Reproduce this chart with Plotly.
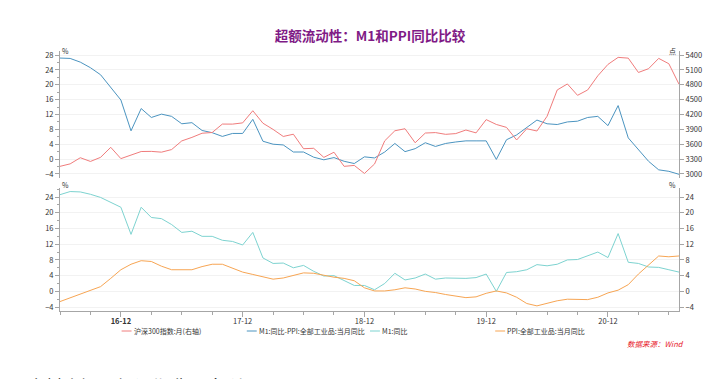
import plotly.graph_objects as go

# ---- categories: monthly, 2016-06 .. 2021-07 ----
months = []
for y in range(2016, 2022):
    for m in range(1, 13):
        if (y == 2016 and m < 6) or (y == 2021 and m > 7):
            continue
        months.append(f"{y % 100:02d}-{m:02d}")

tick_labels = ["16-12", "17-12", "18-12", "19-12", "20-12"]

# ---- series ----
csi300 = [3154, 3204, 3328, 3253, 3336, 3538, 3310, 3388, 3453, 3456, 3440, 3493,
          3667, 3738, 3822, 3837, 4007, 4006, 4031, 4276, 4024, 3899, 3757, 3802,
          3510, 3518, 3335, 3439, 3154, 3173, 3011, 3202, 3669, 3872, 3913, 3630,
          3826, 3835, 3800, 3815, 3887, 3829, 4097, 3999, 3940, 3686, 3913, 3867,
          4164, 4695, 4816, 4587, 4695, 4981, 5211, 5352, 5337, 5048, 5124, 5332,
          5224, 4811]

m1_minus_ppi = [27.2, 27.1, 26.1, 24.6, 22.7, 19.4, 15.9, 7.6, 13.6, 11.2, 12.1, 11.5,
                9.5, 9.8, 7.7, 7.1, 6.1, 6.9, 6.9, 10.7, 4.8, 4.0, 3.8, 1.9,
                1.9, 0.5, -0.2, 0.4, -0.6, -1.2, 0.6, 0.3, 1.9, 4.2, 2.0, 2.8,
                4.4, 3.4, 4.2, 4.6, 4.9, 4.9, 4.9, -0.1, 5.2, 6.5, 8.6, 10.5,
                9.5, 9.3, 10.0, 10.2, 11.2, 11.5, 9.0, 14.4, 5.7, 2.7, -0.6, -2.9,
                -3.3, -4.1]

m1 = [24.6, 25.4, 25.3, 24.7, 23.9, 22.7, 21.4, 14.5, 21.4, 18.8, 18.5, 17.0,
      15.0, 15.3, 14.0, 14.0, 13.0, 12.7, 11.8, 15.0, 8.5, 7.1, 7.2, 6.0,
      6.6, 5.1, 3.9, 4.0, 2.7, 1.5, 1.5, 0.4, 2.0, 4.6, 2.9, 3.4,
      4.4, 3.1, 3.4, 3.4, 3.3, 3.5, 4.4, 0.0, 4.8, 5.0, 5.5, 6.8,
      6.5, 6.9, 8.0, 8.1, 9.1, 10.0, 8.6, 14.7, 7.4, 7.1, 6.2, 6.1,
      5.5, 4.9]

ppi = [-2.6, -1.7, -0.8, 0.1, 1.2, 3.3, 5.5, 6.9, 7.8, 7.6, 6.4, 5.5,
       5.5, 5.5, 6.3, 6.9, 6.9, 5.8, 4.9, 4.3, 3.7, 3.1, 3.4, 4.1,
       4.7, 4.6, 4.1, 3.6, 3.3, 2.7, 0.9, 0.1, 0.1, 0.4, 0.9, 0.6,
       0.0, -0.3, -0.8, -1.2, -1.6, -1.4, -0.5, 0.1, -0.4, -1.5, -3.1, -3.7,
       -3.0, -2.4, -2.0, -2.1, -2.1, -1.5, -0.4, 0.3, 1.7, 4.4, 6.8, 9.0,
       8.8, 9.0]

series_names = ["沪深300指数:月(右轴)", "M1:同比-PPI:全部工业品:当月同比", "M1:同比", "PPI:全部工业品:当月同比"]

idx = list(range(len(months)))
tick_pos = [months.index(t) for t in tick_labels]

RED = "#f07c7c"
BLUE = "#4b94c0"
TEAL = "#7dd3d0"
ORANGE = "#f7a553"
colors = [RED, BLUE, TEAL, ORANGE]
AX = "#a6a6a6"
TXT = "#333333"
FONT = "Noto Sans CJK SC"

fig = go.Figure()
fig.add_trace(go.Scatter(x=idx, y=csi300, name=series_names[0], mode="lines",
                         line=dict(color=RED, width=1), xaxis="x", yaxis="y2"))
fig.add_trace(go.Scatter(x=idx, y=m1_minus_ppi, name=series_names[1], mode="lines",
                         line=dict(color=BLUE, width=1), xaxis="x", yaxis="y"))
fig.add_trace(go.Scatter(x=idx, y=m1, name=series_names[2], mode="lines",
                         line=dict(color=TEAL, width=1), xaxis="x2", yaxis="y3"))
fig.add_trace(go.Scatter(x=idx, y=ppi, name=series_names[3], mode="lines",
                         line=dict(color=ORANGE, width=1), xaxis="x2", yaxis="y4"))

L, R, T, B = 60, 31, 51, 68
W = 714.0 - L - R
H = 379.0 - T - B
PB = 379 - B  # pixel row of plot bottom


def px_x(p):
    return (p - L) / W


def px_y(p):
    return (PB - p) / H


top_dom = [px_y(178), 1.0]
bot_dom = [0.0, px_y(188)]

yfont = dict(family=FONT, size=7.5, color=TXT)


def yax(**kw):
    d = dict(showline=True, linecolor=AX, linewidth=1, ticks="outside", ticklen=4,
             tickcolor=AX, tickfont=yfont, zeroline=False, showgrid=False)
    d.update(kw)
    return d


fig.update_layout(
    width=714, height=379,
    margin=dict(l=L, r=R, t=T, b=B),
    paper_bgcolor="white", plot_bgcolor="white",
    font=dict(family=FONT, size=8, color=TXT),
    title=dict(text="<b>超额流动性：M1和PPI同比比较</b>", x=370 / 714, xanchor="center",
               y=1 - 36 / 379, yanchor="middle",
               font=dict(family=FONT, size=13.5, color="#7f1a86")),
    showlegend=False,
    hovermode=False,
    xaxis=dict(domain=[0, 1], anchor="y", range=[0, len(idx) - 1], showline=False,
               showticklabels=False, ticks="", showgrid=False, zeroline=False),
    xaxis2=dict(domain=[0, 1], anchor="y3", range=[0, len(idx) - 1], showline=True,
                linecolor=AX, linewidth=1, tickvals=tick_pos,
                ticktext=["<b>16-12</b>"] + tick_labels[1:], ticklabelstandoff=-2,
                ticks="outside", ticklen=5, tickcolor=AX, tickfont=yfont, showgrid=False, zeroline=False,
                minor=dict(dtick=3, tick0=0, ticks="outside", ticklen=3, tickcolor=AX, showgrid=False)),
    yaxis=yax(domain=top_dom, anchor="x", range=[-5.1, 29.1], tickvals=list(range(-4, 29, 4)),
              showgrid=True, gridcolor="#f2f2f2",
              minor=dict(dtick=2, tick0=0, ticks="outside", ticklen=2, tickcolor=AX, showgrid=False)),
    yaxis2=yax(overlaying="y", side="right", anchor="x", range=[2919, 5481],
               tickvals=list(range(3000, 5401, 300))),
    yaxis3=yax(domain=bot_dom, anchor="x2", range=[-5.0, 26.3], tickvals=list(range(-4, 25, 4)),
               showgrid=True, gridcolor="#f2f2f2",
               minor=dict(dtick=2, tick0=0, ticks="outside", ticklen=2, tickcolor=AX, showgrid=False)),
    yaxis4=yax(overlaying="y3", side="right", anchor="x2", range=[-5.0, 26.3],
               tickvals=list(range(-4, 25, 4))),
)

# legend (drawn as key line + label, laid out like the reference)
legend_x = [122, 248, 372, 498]
legend_y = 331
for name, col, lx in zip(series_names, colors, legend_x):
    fig.add_shape(type="line", xref="paper", yref="paper",
                  x0=px_x(lx), x1=px_x(lx + 10), y0=px_y(legend_y), y1=px_y(legend_y),
                  line=dict(color=col, width=1))
    fig.add_annotation(text=name, xref="paper", yref="paper", x=px_x(lx + 10), y=px_y(legend_y),
                       xanchor="left", yanchor="middle", showarrow=False,
                       font=dict(family=FONT, size=7, color=TXT))

unit_font = dict(family=FONT, size=7, color=TXT)
fig.add_annotation(text="%", xref="paper", yref="paper", x=0, y=1.0, xanchor="left", yanchor="middle",
                   showarrow=False, font=unit_font)
fig.add_annotation(text="点", xref="paper", yref="paper", x=1, y=1.0, xanchor="right", yanchor="middle",
                   showarrow=False, font=unit_font, xshift=-1)
fig.add_annotation(text="%", xref="paper", yref="paper", x=0, y=px_y(185), xanchor="left",
                   yanchor="middle", showarrow=False, font=unit_font)
fig.add_annotation(text="%", xref="paper", yref="paper", x=1, y=px_y(185), xanchor="right",
                   yanchor="middle", showarrow=False, font=unit_font, xshift=-1)
fig.add_annotation(text="<i>数据来源：Wind</i>", xref="paper", yref="paper", x=px_x(690),
                   y=px_y(343), xanchor="right", yanchor="middle", showarrow=False,
                   font=dict(family=FONT, size=7.5, color="#e8202a"))
fig.add_annotation(text="资料来源：银河期货研究所 WIND", xref="paper", yref="paper", x=px_x(25),
                   y=px_y(371), xanchor="left", yanchor="top", showarrow=False,
                   font=dict(family=FONT, size=18, color="#111111"))

fig.write_html("out.html", post_script="document.body.style.margin='0';",
               config={"displayModeBar": False})
